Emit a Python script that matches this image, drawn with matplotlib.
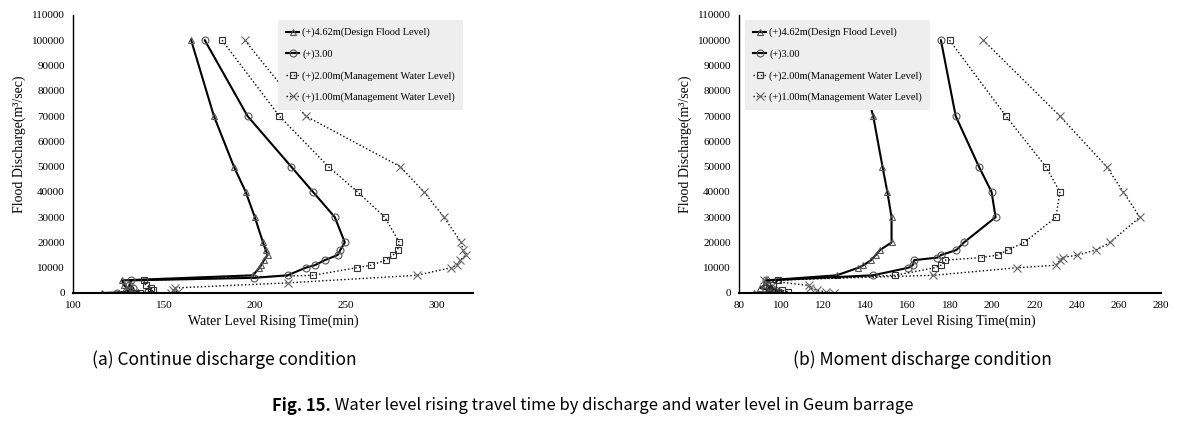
import matplotlib
matplotlib.use("Agg")
import matplotlib.pyplot as plt

# discharge (m3/sec) and rising time (min)
# (a) continue discharge
q_tri_a = [100000, 70000, 50000, 40000, 30000, 20000, 17000, 15000, 13000, 11000, 10000, 7000, 5000, 3000, 2000, 1000, 500, 0]
t_tri_a = [165, 177.5, 188.5, 195, 200, 204.5, 206, 207, 205, 203.5, 202.5, 199, 127, 128, 130, 133, 136, 116]
q_cir_a = [100000, 70000, 50000, 40000, 30000, 20000, 17000, 15000, 13000, 11000, 10000, 7000, 6000, 5000, 3000, 2000, 1000, 500, 0]
t_cir_a = [172.5, 196, 220, 232, 244, 249.5, 247, 245.5, 238.5, 233, 228, 218, 199.5, 132, 131, 133, 131, 129, 124]
q_sq_a = [100000, 70000, 50000, 40000, 30000, 20000, 17000, 15000, 13000, 11000, 10000, 7000, 5000, 3000, 2000, 1000, 500, 0]
t_sq_a = [182, 213.5, 240.5, 256.5, 271.5, 279.5, 278.5, 276, 272, 264, 256, 232, 139, 140, 143, 144, 141, 137]
q_x_a = [100000, 70000, 50000, 40000, 30000, 20000, 17000, 15000, 13000, 11000, 10000, 7000, 4000, 2000, 1000, 500, 0]
t_x_a = [194.5, 228, 280, 293, 304, 313.5, 314.5, 316, 313, 311, 308, 289, 218, 156, 155, 158, 154]

# (b) moment discharge
q_tri_b = [100000, 70000, 50000, 40000, 30000, 20000, 17000, 15000, 13000, 11000, 10000, 7000, 5000, 3000, 2000, 1000, 500, 0]
t_tri_b = [133.6, 143.6, 148, 150.3, 152.3, 152.3, 146.8, 144.8, 142.6, 139, 136.6, 126.3, 93, 92, 90, 95, 100, 87]
q_cir_b = [100000, 70000, 50000, 40000, 30000, 20000, 17000, 15000, 14000, 13000, 11000, 10000, 7000, 5000, 3000, 2000, 1000, 500, 0]
t_cir_b = [175.7, 182.7, 193.7, 199.7, 201.6, 186.6, 183, 175.7, 174, 163, 162.3, 160.3, 143.5, 93, 93.5, 95, 97, 99, 95]
q_sq_b = [100000, 70000, 50000, 40000, 30000, 20000, 17000, 15000, 14000, 13000, 11000, 10000, 7000, 5000, 3000, 2000, 1000, 500, 0]
t_sq_b = [179.8, 206.5, 225.4, 232.1, 230.2, 215.2, 207.3, 202.6, 194.7, 177.6, 175.7, 172.9, 154, 98.5, 96, 94, 100.2, 103.4, 99]
q_x_b = [100000, 70000, 50000, 40000, 30000, 20000, 17000, 15000, 14000, 13000, 11000, 10000, 7000, 5000, 3000, 2000, 1000, 500, 0]
t_x_b = [195.8, 232.1, 254.2, 262.1, 270, 255.8, 249.2, 240.3, 233.4, 232.1, 230.2, 211.9, 172.1, 92, 113, 113.5, 117, 121, 125]

labels = ["(+)4.62m(Design Flood Level)", "(+)3.00",
          "(+)2.00m(Management Water Level)", "(+)1.00m(Management Water Level)"]
yticks = list(range(0, 110001, 10000))

plt.rcParams["font.family"] = ["Liberation Serif", "DejaVu Serif"]

W, H = 1185, 426
fig = plt.figure(figsize=(W / 100, H / 100), dpi=100)


def px_axes(x0, x1, ytop, ybot):
    return fig.add_axes([x0 / W, 1 - ybot / H, (x1 - x0) / W, (ybot - ytop) / H])


def draw(ax, series, xlim, xticks, leg_anchor, width_px):
    styles = [
        dict(color="black", lw=1.5, ls="-", marker="^", ms=5, mfc="none", mec="#555555", mew=0.8),
        dict(color="black", lw=1.5, ls="-", marker="o", ms=5, mfc="none", mec="#555555", mew=0.8),
        dict(color="black", lw=1.0, ls=":", marker="s", ms=5, mfc="none", mec="#333333", mew=0.8),
        dict(color="black", lw=1.0, ls=":", marker="x", ms=6, mfc="none", mec="#666666", mew=0.8),
    ]
    for (t, q), st, lab in zip(series, styles, labels):
        ax.plot(t, q, label=lab, **st)
    ax.set_xlim(*xlim)
    ax.set_ylim(0, 110000)
    ax.set_xticks(xticks)
    ax.set_yticks(yticks)
    ax.tick_params(length=0, labelsize=8, pad=6)
    for s in ["top", "right"]:
        ax.spines[s].set_visible(False)
    ax.spines["left"].set_linewidth(1.0)
    ax.spines["bottom"].set_linewidth(1.5)
    ax.set_xlabel("Water Level Rising Time(min)", fontsize=10, labelpad=3)
    ax.set_ylabel("Flood Discharge(m³/sec)", fontsize=10)
    ax.yaxis.set_label_coords(-47 / width_px, 0.535)
    leg = ax.legend(loc="upper left", bbox_to_anchor=leg_anchor, bbox_transform=fig.transFigure,
                    fontsize=7.5, frameon=True, fancybox=False, handlelength=1.3,
                    handletextpad=0.3, labelspacing=1.15, borderpad=0.75, borderaxespad=0)
    leg.get_frame().set_facecolor("#eeeeee")
    leg.get_frame().set_edgecolor("none")
    leg.get_frame().set_alpha(1)


ax_a = px_axes(73, 473, 15, 293)
draw(ax_a, [(t_tri_a, q_tri_a), (t_cir_a, q_cir_a), (t_sq_a, q_sq_a), (t_x_a, q_x_a)],
     (100, 320), [100, 150, 200, 250, 300], (278 / W, 1 - 20 / H), 400)

ax_b = px_axes(739, 1161, 15, 293)
draw(ax_b, [(t_tri_b, q_tri_b), (t_cir_b, q_cir_b), (t_sq_b, q_sq_b), (t_x_b, q_x_b)],
     (80, 280), list(range(80, 281, 20)), (745 / W, 1 - 20 / H), 422)

cap = ["Noto Sans CJK KR", "DejaVu Sans"]
fig.text(224 / W, 1 - 360 / H, "(a) Continue discharge condition", ha="center", va="center",
         fontsize=12.5, family=cap)
fig.text(922 / W, 1 - 360 / H, "(b) Moment discharge condition", ha="center", va="center",
         fontsize=12.5, family=cap)

# figure caption: bold prefix then regular text
t1 = fig.text(0, 1 - 406 / H, "Fig. 15.", fontsize=12, family=cap, weight="bold", va="center")
t2 = fig.text(0, 1 - 406 / H, " Water level rising travel time by discharge and water level in Geum barrage",
              fontsize=12, family=cap, va="center")
r = fig.canvas.get_renderer()
w1 = t1.get_window_extent(r).width
w2 = t2.get_window_extent(r).width
x0 = (W - w1 - w2) / 2
t1.set_x(x0 / W)
t2.set_x((x0 + w1) / W)

fig.savefig("out.png", dpi=100)
